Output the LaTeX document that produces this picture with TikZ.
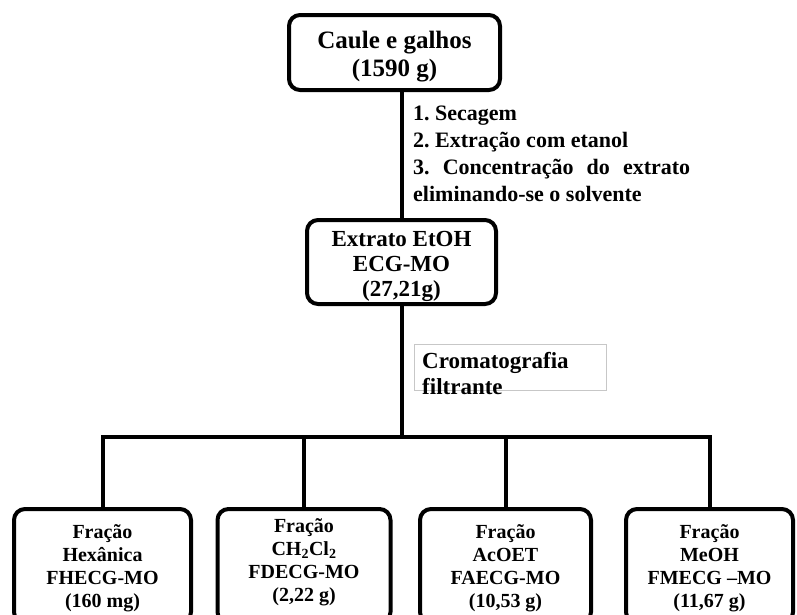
\documentclass[tikz,border=0pt]{standalone}
\usepackage{fontspec}
\setmainfont{Liberation Serif}
\frenchspacing
\begin{document}
\begin{tikzpicture}[x=1pt,y=-1pt,
  box/.style={draw, line width=4pt, rounded corners=11pt, fill=white, inner sep=0pt},
  boxtext/.style={align=center, inner sep=0pt},
  conn/.style={line width=4pt},
  txt/.style={anchor=north west, inner sep=0pt, align=left},
  bottomfont/.style={font=\bfseries\fontsize{20}{23}\selectfont}
]
\useasboundingbox (0,0) rectangle (797,614);

\node[box, minimum width=211pt, minimum height=75pt] (top) at (394.5,52.5) {};
\node[boxtext, font=\bfseries\fontsize{25}{28}\selectfont] (toptxt) at ([yshift=-4pt]top.center) {Caule e galhos\\(1590 g)};

\node[box, minimum width=189pt, minimum height=84pt] (mid) at (401.5,262) {};
\node[boxtext, font=\bfseries\fontsize{23}{25}\selectfont] (midtxt) at ([yshift=-4pt]mid.center) {Extrato EtOH\\ECG-MO\\(27,21g)};

\node[box, minimum width=177pt, minimum height=114pt] (b1) at (102.5,566) {};
\node[box, minimum width=173pt, minimum height=114pt] (b2) at (304,566) {};
\node[box, minimum width=171pt, minimum height=114pt] (b3) at (505.5,566) {};
\node[box, minimum width=167pt, minimum height=114pt] (b4) at (709.5,566) {};
\node[boxtext, bottomfont] (b1t) at ([yshift=-2pt]b1.center) {Fração\\Hexânica\\FHECG-MO\\(160 mg)};
\node[boxtext, bottomfont] (b2t) at ([yshift=4pt]b2.center) {Fração\\CH\textsubscript{2}Cl\textsubscript{2}\\FDECG-MO\\(2,22 g)};
\node[boxtext, bottomfont] (b3t) at ([yshift=-2pt]b3.center) {Fração\\AcOET\\FAECG-MO\\(10,53 g)};
\node[boxtext, bottomfont] (b4t) at ([yshift=-2pt]b4.center) {Fração\\MeOH\\FMECG –MO\\(11,67 g)};

\node[txt, font=\bfseries\fontsize{22}{27}\selectfont] (steps) at (413,106) {1. Secagem\\2. Extração com etanol\\\makebox[277pt][s]{3. Concentração do extrato}\\eliminando-se o solvente};

\node[draw=black!22, line width=0.8pt, minimum width=192pt, minimum height=46pt, anchor=north west, inner sep=0pt] (cbox) at (413.5,343.5) {};
\node[txt, font=\bfseries\fontsize{23}{26}\selectfont] (ctext) at (422,352) {Cromatografia\\filtrante};

\coordinate (j) at (401.5,437);
\draw[conn] (top.south -| mid.north) -- (mid.north);
\draw[conn] (mid.south) -- (j);
\draw[conn] (b1.north) -- (b1.north |- j) -- (b4.north |- j) -- (b4.north);
\draw[conn] (b2.north) -- (b2.north |- j);
\draw[conn] (b3.north) -- (b3.north |- j);
\end{tikzpicture}
\end{document}
